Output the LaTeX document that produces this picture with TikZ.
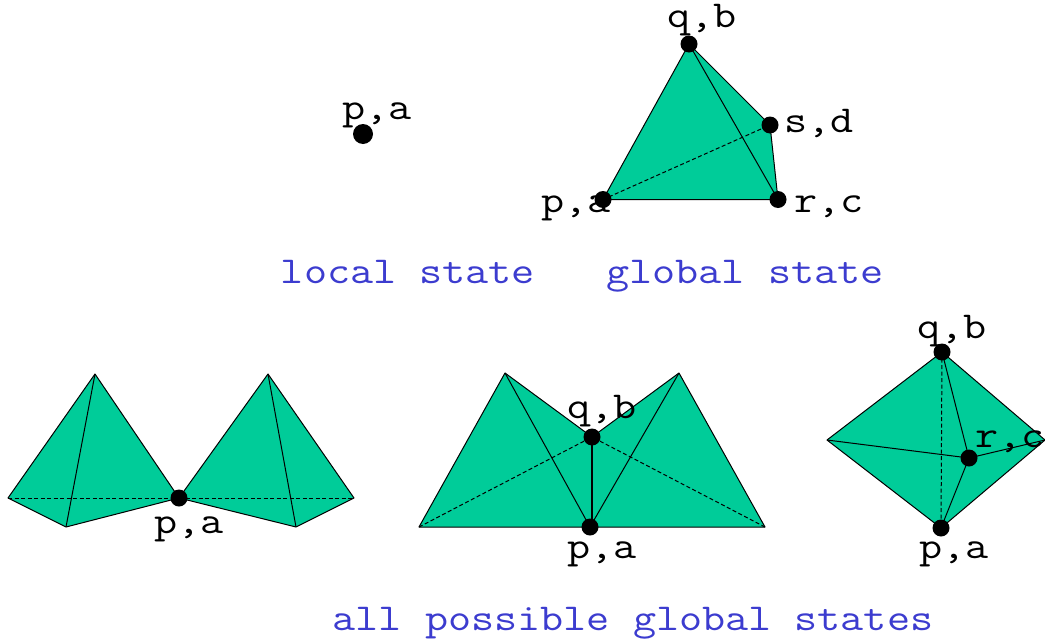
\documentclass[tikz,border=0pt]{standalone}
\definecolor{facegreen}{RGB}{0,204,153}
\definecolor{capblue}{RGB}{60,60,207}
\tikzset{
  face/.style={fill=facegreen,draw=black,line width=1pt,line join=round},
  edgeline/.style={draw=black,line width=1pt},
  hiddenline/.style={draw=black,line width=1pt,dash pattern=on 4pt off 2.5pt},
  dot/.style={circle,fill=black,inner sep=0pt,minimum size=17pt},
  bigdot/.style={circle,fill=black,inner sep=0pt,minimum size=20pt},
  lab/.style={inner sep=0pt,anchor=base,font=\fontsize{38}{38}\ttfamily,xscale=1.18,text=black},
  captxt/.style={inner sep=0pt,anchor=base,font=\fontsize{38}{38}\ttfamily,xscale=1.18,text=capblue}
}
\begin{document}
\begin{tikzpicture}[x=1pt,y=-1pt]
\useasboundingbox (0,0) rectangle (1045,640);
% top tetrahedron
\coordinate (tq) at (689,44);
\coordinate (ts) at (770,125);
\coordinate (tr) at (778,199.5);
\coordinate (tp) at (603,199.5);
\path[face] (tp) -- (tq) -- (ts) -- (tr) -- cycle;
\draw[edgeline] (tq) -- (tr);
\draw[hiddenline] (tp) -- (ts);
% left pair
\coordinate (la) at (95,374);
\coordinate (ll) at (8,498);
\coordinate (lb) at (66,527);
\coordinate (lc) at (179,498);
\coordinate (ra) at (268,374);
\coordinate (rr) at (354,498);
\coordinate (rb) at (296,527);
\path[face] (ll) -- (la) -- (lc) -- (lb) -- cycle;
\path[face] (rr) -- (ra) -- (lc) -- (rb) -- cycle;
\draw[edgeline] (la) -- (lb);
\draw[edgeline] (ra) -- (rb);
\draw[hiddenline] (ll) -- (lc);
\draw[hiddenline] (lc) -- (rr);
% middle
\coordinate (ma) at (505,373);
\coordinate (mq) at (592,437);
\coordinate (mb) at (679,373);
\coordinate (mr) at (765,527);
\coordinate (mp) at (590,527);
\coordinate (ml) at (419,527);
\path[face] (ml) -- (ma) -- (mq) -- (mb) -- (mr) -- cycle;
\draw[edgeline] (ma) -- (mp);
\draw[edgeline] (mb) -- (mp);
\draw[edgeline,line width=1.4pt] (mq) -- (mq |- mp);
\draw[hiddenline] (ml) -- (mq);
\draw[hiddenline] (mr) -- (mq);
% right
\coordinate (dq) at (942,352);
\coordinate (dl) at (827,440);
\coordinate (dp) at (941,528);
\coordinate (dr) at (1045,440);
\coordinate (dc) at (969,458);
\path[face] (dq) -- (dl) -- (dp) -- (dr) -- cycle;
\draw[edgeline] (dq) -- (dc);
\draw[edgeline] (dl) -- (dc);
\draw[edgeline] (dr) -- (dc);
\draw[edgeline] (dp) -- (dc);
\draw[hiddenline] (dq) -- (dp);
% dots
\node[bigdot] (n0) at (363,134) {};
\foreach \c in {tq,ts,tr,tp,lc,mq,mp,dq,dp,dc} \node[dot] at (\c) {};
% labels
\node[lab] (l1) at (377,119) {p,a};
\node[lab] (l2) at (702,27) {q,b};
\node[lab] (l3) at (819,132) {s,d};
\node[lab] (l4) at (829,212) {r,c};
\node[lab] (l5) at (576,212) {p,a};
\node[lab] (l6) at (189,533) {p,a};
\node[lab] (l7) at (602,418) {q,b};
\node[lab] (l8) at (602,558) {p,a};
\node[lab] (l9) at (952,338) {q,b};
\node[lab] (l10) at (1010,447) {r,c};
\node[lab] (l11) at (954,558) {p,a};
\node[captxt] (c1) at (408,283) {local state};
\node[captxt] (c2) at (745,283) {global state};
\node[captxt] (c3) at (633,630) {all possible global states};
\end{tikzpicture}
\end{document}
